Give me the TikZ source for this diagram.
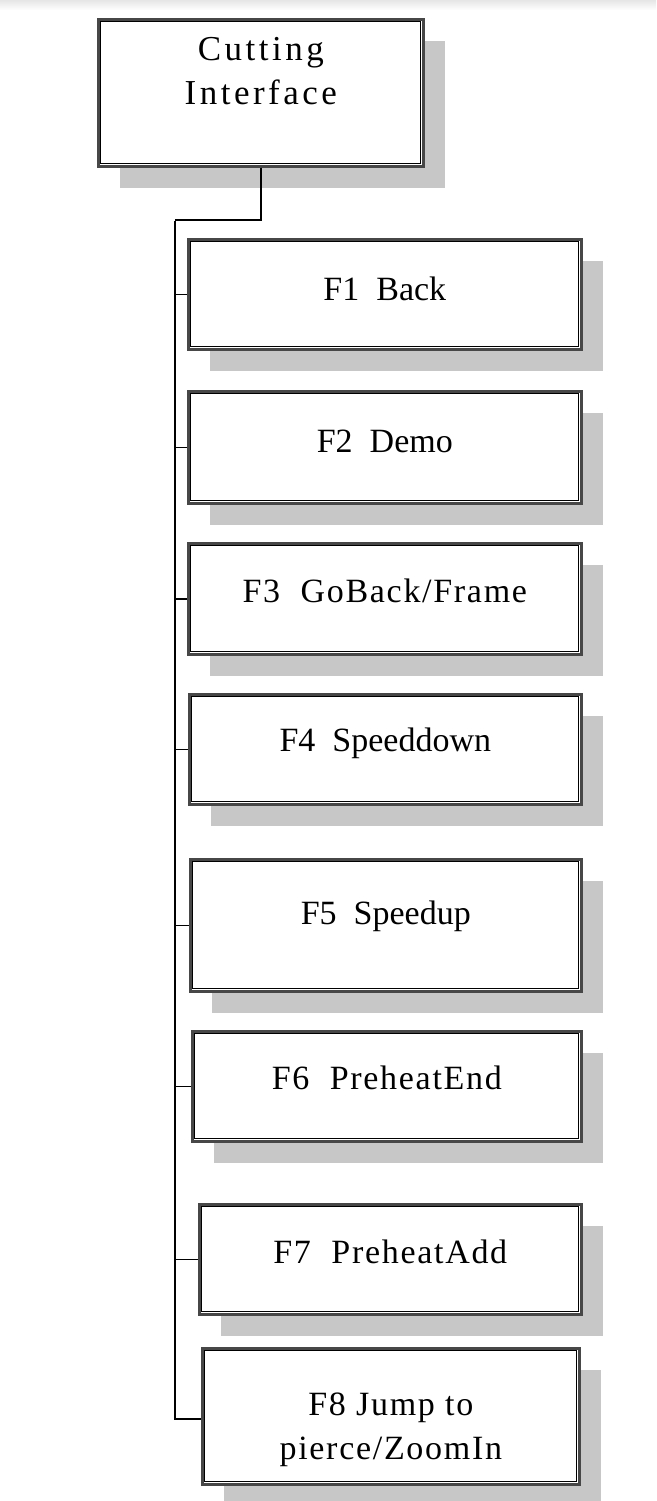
\documentclass[tikz,border=0pt]{standalone}
\usepackage{fontspec}
\setmainfont{Liberation Serif}
\newfontfamily\monoish[LetterSpace=5]{Liberation Serif}
\newfontfamily\wideish[LetterSpace=10]{Liberation Serif}
\usetikzlibrary{shadows}
\begin{document}
\begin{tikzpicture}[x=1pt,y=-1pt,
  box/.style={draw=black!72, line width=2.6pt, fill=white, inner sep=0pt,
    anchor=north west, font={\fontsize{34}{44}\selectfont},
    drop shadow={shadow xshift=22pt, shadow yshift=-22pt, fill=black!22, opacity=1}},
  innerframe/.style={draw=black, line width=1pt},
  stem/.style={draw=black, line width=2.6pt},
  trunk/.style={draw=black, line width=2pt},
  tickline/.style={draw=black, line width=1.4pt}]
\useasboundingbox (0,0) rectangle (656,1501);
\shade[top color=black!10, bottom color=white] (0,0) rectangle (656,10);

\node[box, minimum width=325pt, minimum height=147pt, text height=41.5pt, text depth=105.5pt,
  font={\wideish\fontsize{35}{44}\selectfont}] (top) at (97,18)
  {\begin{tabular}[t]{@{}c@{}}Cutting\\Interface\end{tabular}};

\node[box, minimum width=393pt, minimum height=110pt, text height=61.5pt, text depth=48.5pt] (f1) at (187,238) {F1\ \ Back};
\node[box, minimum width=393pt, minimum height=112pt, text height=61.5pt, text depth=50.5pt] (f2) at (187,390) {F2\ \ Demo};
\node[box, minimum width=393pt, minimum height=111pt, text height=59.5pt, text depth=51.5pt,
  font={\monoish\fontsize{34}{44}\selectfont}] (f3) at (187,542) {F3\ \ GoBack/Frame};
\node[box, minimum width=392pt, minimum height=110pt, text height=57.5pt, text depth=52.5pt] (f4) at (188,693) {F4\ \ Speeddown};
\node[box, minimum width=391pt, minimum height=132pt, text height=65.5pt, text depth=66.5pt] (f5) at (189,858) {F5\ \ Speedup};
\node[box, minimum width=389pt, minimum height=110pt, text height=58.5pt, text depth=51.5pt,
  font={\monoish\fontsize{34}{44}\selectfont}] (f6) at (191,1030) {F6\ \ PreheatEnd};
\node[box, minimum width=382pt, minimum height=110pt, text height=59.5pt, text depth=50.5pt,
  font={\monoish\fontsize{34}{44}\selectfont}] (f7) at (198,1203) {F7\ \ PreheatAdd};
\node[box, minimum width=377pt, minimum height=136pt, text height=67.5pt, text depth=68.5pt,
  font={\monoish\fontsize{34}{44}\selectfont}] (f8) at (201,1347)
  {\begin{tabular}[t]{@{}c@{}}F8\ Jump to\\pierce/ZoomIn\end{tabular}};

\foreach \n in {top,f1,f2,f3,f4,f5,f6,f7,f8}
  \draw[innerframe] ([shift={(3.8,3.8)}]\n.north west) rectangle ([shift={(-3.8,-3.8)}]\n.south east);

\coordinate (bend) at (175,220);
\draw[stem] (top.south) |- (bend);
\draw[trunk] ([yshift=-1pt]bend) -- ([yshift=-3pt]bend |- f8.west) -- ([yshift=-3pt]f8.west);
\foreach \n in {f1,f2,f3,f4,f5,f6,f7}
  \draw[tickline] (bend |- \n.west) -- (\n.west);
\end{tikzpicture}
\end{document}
